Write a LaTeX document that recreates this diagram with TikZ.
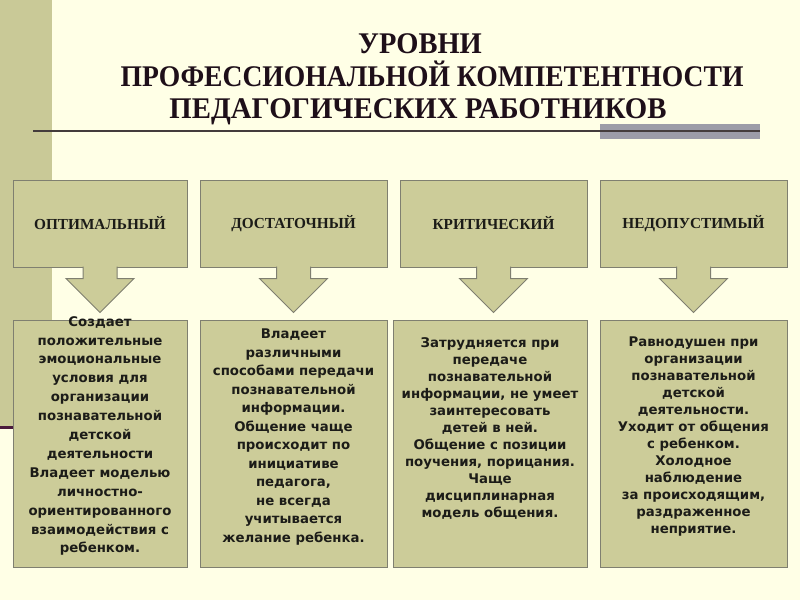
\documentclass[tikz,border=0pt]{standalone}
\usepackage{fontspec}
\setmainfont{Liberation Serif}
\newfontfamily\bodyfont{DejaVu Sans}
\usetikzlibrary{calc}
\definecolor{bg}{HTML}{FFFFE6}
\definecolor{stripcol}{HTML}{C9C997}
\definecolor{boxfill}{HTML}{CCCC99}
\definecolor{boxline}{HTML}{7F7F70}
\definecolor{titlecol}{HTML}{1E0F19}
\definecolor{rulecol}{HTML}{443C3C}
\definecolor{barcol}{HTML}{9C9CA8}
\definecolor{purp}{HTML}{4A1A3C}
\definecolor{txtcol}{HTML}{1C1C18}
\tikzset{
  titleline/.style={text=titlecol, inner sep=0pt, anchor=base, font=\bfseries\fontsize{30}{33}\selectfont},
  levelbox/.style={draw=boxline, fill=boxfill, line width=1pt, inner sep=0pt,
    minimum height=87pt, font=\bfseries\fontsize{15.3}{18}\selectfont, text=txtcol},
  descbox/.style={draw=boxline, fill=boxfill, line width=1pt, inner sep=0pt,
    minimum height=247pt},
  desctext/.style={align=center, text=txtcol, inner sep=0pt,
    font=\bodyfont\bfseries\fontsize{13.3}{#1}\selectfont},
  blockarrow/.style={fill=boxfill, draw=boxline, line width=1pt, line join=miter}
}
\begin{document}
\begin{tikzpicture}[x=1pt,y=-1pt]
\fill[bg] (0,0) rectangle (800,600);
\useasboundingbox (0,0) rectangle (800,600);
\fill[stripcol] (0,0) rectangle (52,427);
\draw[purp, line width=3pt] (0,427) -- (20,427);
\fill[barcol] (600,124) rectangle (760,139);
\draw[rulecol, line width=2pt] (33,131) -- (760,131);
\node[titleline] (title1) at (420,53) {\scalebox{0.95}[1]{УРОВНИ}};
\node[titleline] (title2) at (432,86) {\scalebox{0.92}[1]{ПРОФЕССИОНАЛЬНОЙ КОМПЕТЕНТНОСТИ}};
\node[titleline] (title3) at (418,118.5) {\scalebox{0.96}[1]{ПЕДАГОГИЧЕСКИХ РАБОТНИКОВ}};
% level boxes
\node[levelbox, minimum width=174pt] (t1) at (100,223.5) {ОПТИМАЛЬНЫЙ};
\node[levelbox, minimum width=187pt] (t2) at (293.5,223.5) {ДОСТАТОЧНЫЙ};
\node[levelbox, minimum width=187pt] (t3) at (493.5,223.5) {КРИТИЧЕСКИЙ};
\node[levelbox, minimum width=187pt] (t4) at (693.5,223.5) {НЕДОПУСТИМЫЙ};
% description boxes
\node[descbox, minimum width=174pt] (b1) at (100,443.5) {};
\node[descbox, minimum width=187pt] (b2) at (293.5,443.5) {};
\node[descbox, minimum width=194pt] (b3) at (490,443.5) {};
\node[descbox, minimum width=187pt] (b4) at (693.5,443.5) {};
% arrows
\foreach \t in {t1,t2,t3,t4}{
  \path[blockarrow] ($(\t.south)+(-17,-1)$) -- ++(0,12) -- ++(-17,0) -- ($(\t.south)+(0,45)$)
    -- ++(34,-34) -- ++(-17,0) -- ++(0,-12);
}
% texts
\node[desctext=18.9pt] (x1) at (100,436) {Создает\\положительные\\эмоциональные\\условия для\\организации\\познавательной\\детской\\деятельности\\Владеет моделью\\личностно-\\ориентированного\\взаимодействия с\\ребенком.};
\node[desctext=18.5pt] (x2) at (293.5,437) {Владеет\\различными\\способами передачи\\познавательной\\информации.\\Общение чаще\\происходит по\\инициативе\\педагога,\\не всегда\\учитывается\\желание ребенка.};
\node[desctext=17pt] (x3) at (490,428) {Затрудняется при\\передаче\\познавательной\\информации, не умеет\\заинтересовать\\детей в ней.\\Общение с позиции\\поучения, порицания.\\Чаще\\дисциплинарная\\модель общения.};
\node[desctext=17pt] (x4) at (693.5,437) {Равнодушен при\\организации\\познавательной\\детской\\деятельности.\\Уходит от общения\\с ребенком.\\Холодное\\наблюдение\\за происходящим,\\раздраженное\\неприятие.};
\end{tikzpicture}
\end{document}
